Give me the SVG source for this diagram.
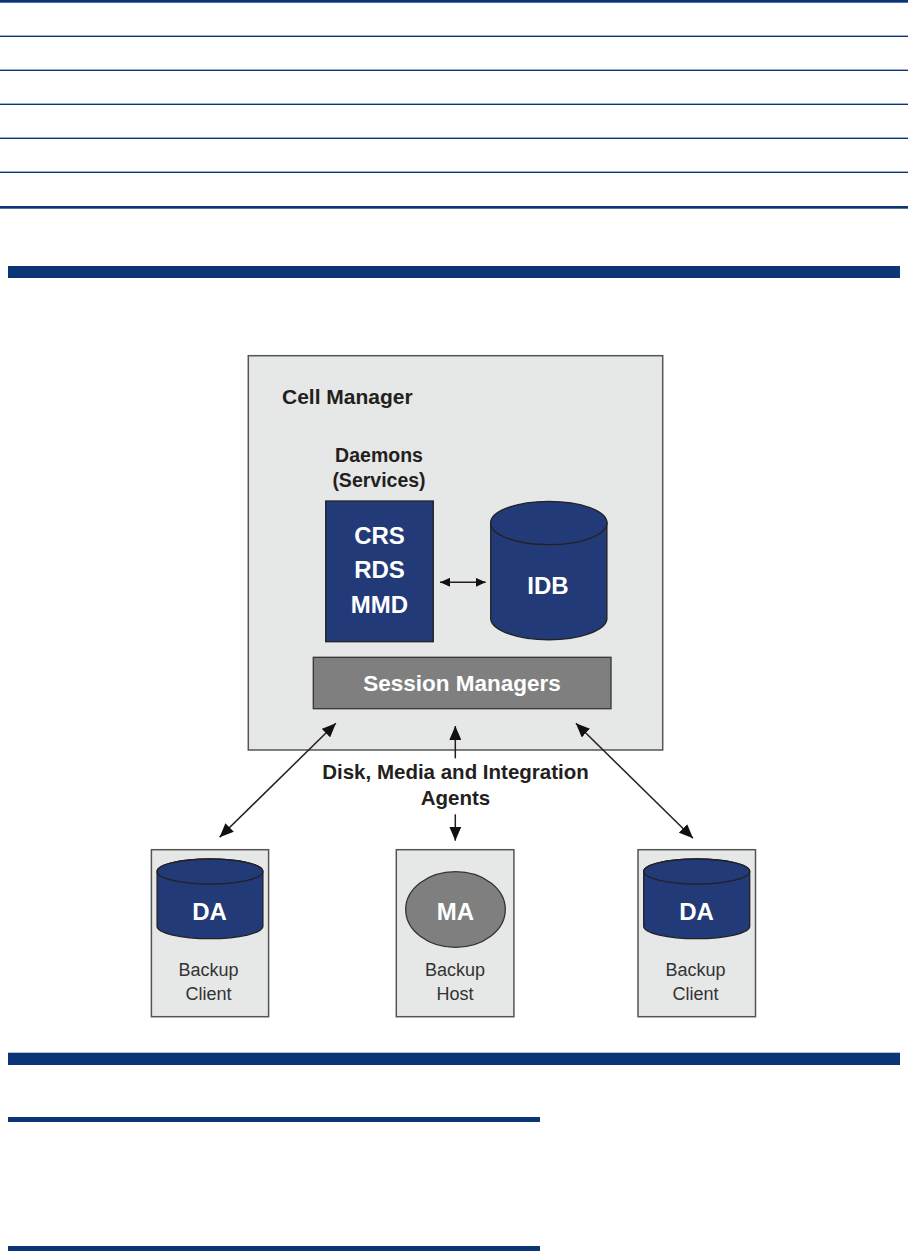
<svg xmlns="http://www.w3.org/2000/svg" width="908" height="1251" viewBox="0 0 908 1251">
<defs>
<style>
.rule{fill:#0b3577}
.box{fill:#e6e7e7;stroke:#555;stroke-width:1.5}
.navy{fill:#233a78;stroke:#222;stroke-width:1.3}
.grey{fill:#7f7f7f;stroke:#333;stroke-width:1.3}
.lbl{font-family:"Liberation Sans",Arial,sans-serif;font-weight:bold;fill:#231f20;text-anchor:middle}
.wt{font-family:"Liberation Sans",Arial,sans-serif;font-weight:bold;fill:#fff;text-anchor:middle;font-size:24px}
.sub{font-family:"Liberation Sans",Arial,sans-serif;fill:#333;text-anchor:middle;font-size:18px}
.conn{stroke:#231f20;stroke-width:1.5;fill:none}
</style>
<marker id="ah" viewBox="0 0 14 12" refX="14" refY="6" markerWidth="14" markerHeight="12" markerUnits="userSpaceOnUse" orient="auto-start-reverse">
<path d="M0,0 L14,6 L0,12 z" fill="#111"/>
</marker>
<marker id="sah" viewBox="0 0 10 9" refX="10" refY="4.5" markerWidth="10" markerHeight="9" markerUnits="userSpaceOnUse" orient="auto-start-reverse">
<path d="M0,0 L10,4.5 L0,9 z" fill="#111"/>
</marker>
</defs>
<rect width="908" height="1251" fill="#fff"/>
<g id="page-rules">
<rect class="rule" x="0" y="0" width="908" height="2.7"/>
<rect class="rule" x="0" y="35.6" width="908" height="1.4"/>
<rect class="rule" x="0" y="69.6" width="908" height="1.4"/>
<rect class="rule" x="0" y="103.6" width="908" height="1.4"/>
<rect class="rule" x="0" y="137.6" width="908" height="1.4"/>
<rect class="rule" x="0" y="171.6" width="908" height="1.4"/>
<rect class="rule" x="0" y="206" width="908" height="2.7"/>
<rect class="rule" x="8" y="266" width="892" height="12"/>
<rect class="rule" x="8" y="1052.7" width="892" height="12.3"/>
<rect class="rule" x="8" y="1117" width="532" height="5"/>
<rect class="rule" x="8" y="1246" width="532" height="5"/>
</g>
<g id="cell-manager">
<rect class="box" x="248.3" y="355.7" width="414.4" height="394.3"/>
<text class="lbl" x="282" y="404" font-size="21" style="text-anchor:start">Cell Manager</text>
</g>
<g id="daemons">
<text class="lbl" x="379" y="461.5" font-size="19.5">Daemons</text>
<text class="lbl" x="379" y="487" font-size="19.5">(Services)</text>
<rect class="navy" x="325.7" y="501" width="107.6" height="140.7"/>
<text class="wt" x="379.5" y="544.3">CRS</text>
<text class="wt" x="379.5" y="578.3">RDS</text>
<text class="wt" x="379.5" y="613.3">MMD</text>
</g>
<g id="idb">
<path class="navy" d="M490.7,523 L490.7,619.3 A58.2,21.7 0 0 0 606.9,619.3 L606.9,523 A58.2,21.7 0 0 0 490.7,523 Z"/>
<ellipse class="navy" cx="548.8" cy="523" rx="58.2" ry="21.7"/>
<text class="wt" x="548" y="594.3">IDB</text>
</g>
<g id="session-managers">
<rect class="grey" x="313.3" y="657.3" width="297.7" height="51.4"/>
<text class="wt" x="462" y="690.7" style="font-size:22.5px">Session Managers</text>
</g>
<g id="agents-label">
<text class="lbl" x="455.5" y="779" font-size="20.5">Disk, Media and Integration</text>
<text class="lbl" x="455.5" y="805" font-size="20.5">Agents</text>
</g>
<g id="backup-client-left">
<rect class="box" x="151.4" y="849.7" width="117.2" height="167"/>
<path class="navy" d="M157.1,871.5 L157.1,926.2 A52.9,12.5 0 0 0 262.9,926.2 L262.9,871.5 A52.9,12.5 0 0 0 157.1,871.5 Z"/>
<ellipse class="navy" cx="210" cy="871.5" rx="52.9" ry="12.5"/>
<text class="wt" x="209.5" y="920">DA</text>
<text class="sub" x="208.5" y="976">Backup</text>
<text class="sub" x="208.5" y="1000">Client</text>
</g>
<g id="backup-host">
<rect class="box" x="396.3" y="849.7" width="117.6" height="167"/>
<ellipse class="grey" cx="455.5" cy="909.5" rx="49.8" ry="37.8"/>
<text class="wt" x="455.5" y="920">MA</text>
<text class="sub" x="455" y="976">Backup</text>
<text class="sub" x="455" y="1000">Host</text>
</g>
<g id="backup-client-right">
<rect class="box" x="638" y="849.7" width="117.5" height="167"/>
<path class="navy" d="M643.7,871.5 L643.7,926.2 A53,12.5 0 0 0 749.7,926.2 L749.7,871.5 A53,12.5 0 0 0 643.7,871.5 Z"/>
<ellipse class="navy" cx="696.7" cy="871.5" rx="53" ry="12.5"/>
<text class="wt" x="696.5" y="920">DA</text>
<text class="sub" x="695.5" y="976">Backup</text>
<text class="sub" x="695.5" y="1000">Client</text>
</g>
<g id="connectors">
<line class="conn" x1="440" y1="582.3" x2="485.7" y2="582.3" marker-start="url(#sah)" marker-end="url(#sah)"/>
<line class="conn" x1="219.6" y1="837.3" x2="335.9" y2="723.3" marker-start="url(#ah)" marker-end="url(#ah)"/>
<line class="conn" x1="455.3" y1="758.3" x2="455.3" y2="726" marker-end="url(#ah)"/>
<line class="conn" x1="455.3" y1="814.3" x2="455.3" y2="840.7" marker-end="url(#ah)"/>
<line class="conn" x1="693" y1="838.3" x2="575.9" y2="723.3" marker-start="url(#ah)" marker-end="url(#ah)"/>
</g>
</svg>
